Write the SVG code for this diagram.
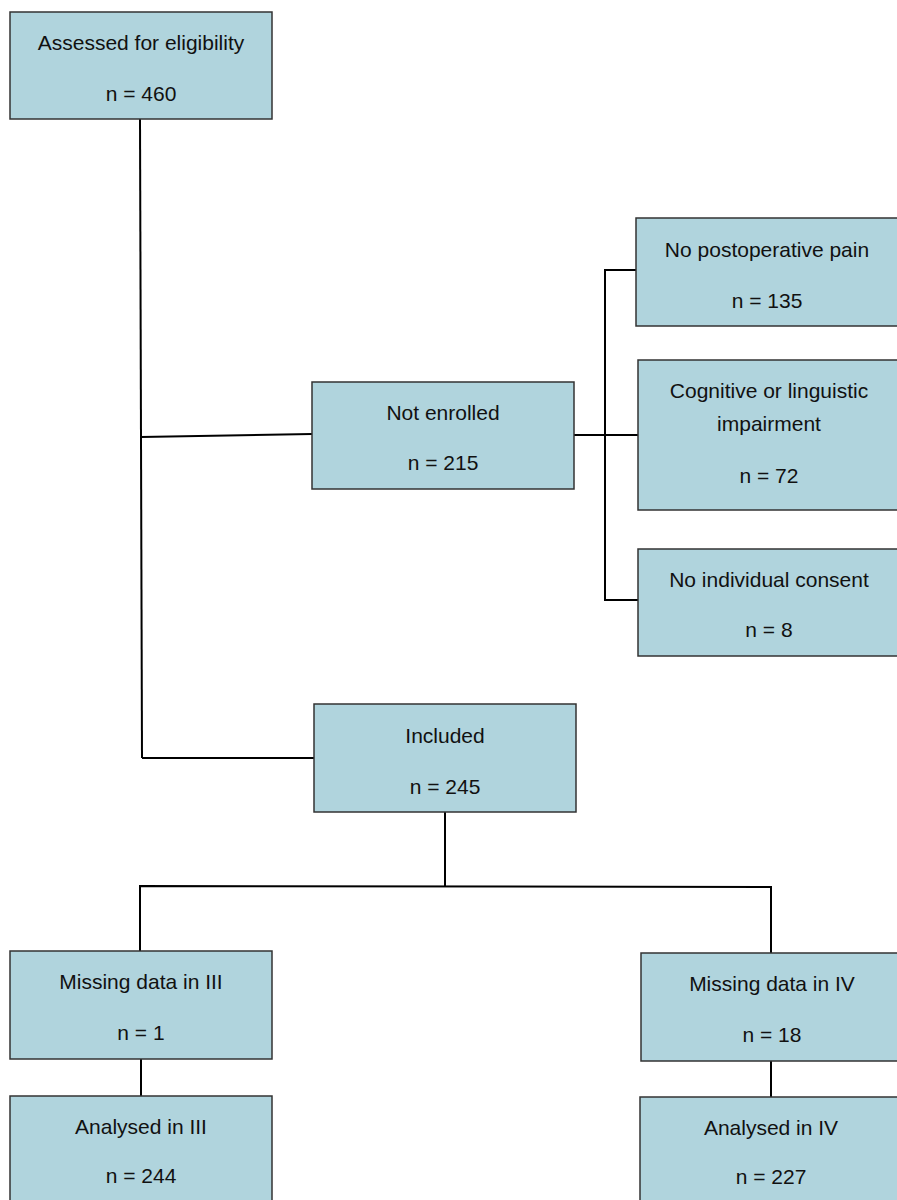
<svg xmlns="http://www.w3.org/2000/svg" width="897" height="1200" viewBox="0 0 897 1200">
<style>
.box{fill:#b0d4dd;stroke:#333333;stroke-width:1.5}
.t{font-family:"Liberation Sans",Arial,sans-serif;font-size:21px;fill:#111111;text-anchor:middle}
.c{fill:none;stroke:#000000;stroke-width:2}
</style>
<rect width="897" height="1200" fill="#ffffff"/>
<g id="connectors">
<path class="c" d="M140,119 L142,758"/>
<path class="c" d="M141,437 L312,434"/>
<path class="c" d="M142,758 L314,758"/>
<path class="c" d="M574,435 L638,435"/>
<path class="c" d="M636,270 L605,270 L605,600 L638,600"/>
<path class="c" d="M445,812 L445,886"/>
<path class="c" d="M140,951 L140,886 L771,887 L771,953"/>
<path class="c" d="M141,1059 L141,1096"/>
<path class="c" d="M771,1061 L771,1097"/>
</g>
<g id="assessed">
<rect class="box" x="10" y="12" width="262" height="107"/>
<text class="t" x="141" y="50">Assessed for eligibility</text>
<text class="t" x="141" y="101">n = 460</text>
</g>
<g id="not-enrolled">
<rect class="box" x="312" y="382" width="262" height="107"/>
<text class="t" x="443" y="420">Not enrolled</text>
<text class="t" x="443" y="470">n = 215</text>
</g>
<g id="included">
<rect class="box" x="314" y="704" width="262" height="108"/>
<text class="t" x="445" y="743">Included</text>
<text class="t" x="445" y="794">n = 245</text>
</g>
<g id="no-pain">
<rect class="box" x="636" y="218" width="264" height="108"/>
<text class="t" x="767" y="257">No postoperative pain</text>
<text class="t" x="767" y="308">n = 135</text>
</g>
<g id="cognitive">
<rect class="box" x="638" y="360" width="264" height="150"/>
<text class="t" x="769" y="398">Cognitive or linguistic</text>
<text class="t" x="769" y="431">impairment</text>
<text class="t" x="769" y="483">n = 72</text>
</g>
<g id="no-consent">
<rect class="box" x="638" y="549" width="264" height="107"/>
<text class="t" x="769" y="587">No individual consent</text>
<text class="t" x="769" y="637">n = 8</text>
</g>
<g id="missing-iii">
<rect class="box" x="10" y="951" width="262" height="108"/>
<text class="t" x="141" y="989">Missing data in III</text>
<text class="t" x="141" y="1040">n = 1</text>
</g>
<g id="missing-iv">
<rect class="box" x="641" y="953" width="264" height="108"/>
<text class="t" x="772" y="991">Missing data in IV</text>
<text class="t" x="772" y="1042">n = 18</text>
</g>
<g id="analysed-iii">
<rect class="box" x="10" y="1096" width="262" height="120"/>
<text class="t" x="141" y="1134">Analysed in III</text>
<text class="t" x="141" y="1183">n = 244</text>
</g>
<g id="analysed-iv">
<rect class="box" x="640" y="1097" width="264" height="120"/>
<text class="t" x="771" y="1135">Analysed in IV</text>
<text class="t" x="771" y="1184">n = 227</text>
</g>
</svg>
